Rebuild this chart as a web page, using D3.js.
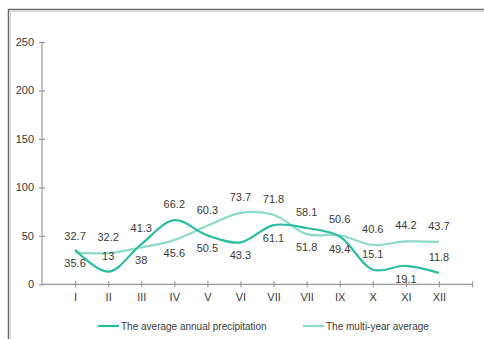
<!DOCTYPE html>
<html>
<head>
<meta charset="utf-8">
<script src="https://cdn.jsdelivr.net/npm/d3@7/dist/d3.min.js"></script>
<style>
  html, body { margin: 0; padding: 0; background: #fff; }
  svg { display: block; font-family: "Liberation Sans", Arial, sans-serif; }
</style>
</head>
<body>
<svg id="chart" width="484" height="339"></svg>
<script>
// Monthly precipitation (mm)
const months = ["I", "II", "III", "IV", "V", "VI", "VII", "VII", "IX", "X", "XI", "XII"];
const annualPrecip = [35.6, 13, 41.3, 66.2, 50.5, 43.3, 61.1, 58.1, 49.4, 15.1, 19.1, 11.8];
const multiYearAvg = [32.7, 32.2, 38, 45.6, 60.3, 73.7, 71.8, 51.8, 50.6, 40.6, 44.2, 43.7];
const yTicks = [0, 50, 100, 150, 200, 250];
const seriesNames = ["The average annual precipitation", "The multi-year average"];

// Which side of its point each value label sits on
const annualLabelSide = ["below", "above", "above", "above", "below", "below", "below", "above", "below", "above", "below", "above"];
const multiLabelSide  = ["above", "above", "below", "below", "above", "above", "above", "below", "above", "above", "above", "above"];

const colors = ["#2bbd9f", "#8fd9c9"];
const textColor = "#3a3a3a";
const axisColor = "#9a9a9a";

const svg = d3.select("#chart");

// outer frame (top and left edges)
svg.append("path")
  .attr("d", "M8.5,340 V9.5 H484")
  .attr("fill", "none").attr("stroke", "#6a6a6a").attr("stroke-width", 1.5);
svg.append("path")
  .attr("d", "M10.5,340 V11.5 H484")
  .attr("fill", "none").attr("stroke", "#d8d8d8").attr("stroke-width", 1);

const x = d3.scaleLinear().domain([0, 13]).range([42, 472]);
const y = d3.scaleLinear().domain([0, 250]).range([284.3, 42]);

// y axis
const yAxis = svg.append("g").attr("transform", `translate(${x(0)},0)`)
  .call(d3.axisLeft(y).tickValues(yTicks).tickSize(3).tickPadding(5));
yAxis.selectAll(".tick line").attr("x2", 3).attr("x1", -3);
// x axis
const xAxis = svg.append("g").attr("transform", `translate(0,${y(0)})`)
  .call(d3.axisBottom(x).tickValues(d3.range(1, 14))
    .tickFormat(d => months[d - 1] || "").tickSize(3).tickPadding(6));
xAxis.selectAll(".tick line").attr("y1", -3).attr("y2", 3);

[yAxis, xAxis].forEach(ax => {
  ax.select(".domain").attr("stroke", axisColor).attr("stroke-width", 1.2);
  ax.selectAll(".tick line").attr("stroke", axisColor).attr("stroke-width", 1.2);
  ax.selectAll(".tick text").attr("fill", textColor).attr("font-size", 11)
    .attr("font-family", "Liberation Sans, Arial, sans-serif");
});
// remove the default outer tick path ends
yAxis.select(".domain").attr("d", `M0,${y(0)}V${y(250)}`);
xAxis.select(".domain").attr("d", `M${x(0)},0H${x(13)}`);

const line = d3.line()
  .x((d, i) => x(i + 1))
  .y(d => y(d))
  .curve(d3.curveCatmullRom.alpha(0.5));

const series = [
  { values: multiYearAvg, color: colors[1], sides: multiLabelSide },
  { values: annualPrecip, color: colors[0], sides: annualLabelSide }
];

series.forEach(s => {
  svg.append("path")
    .datum(s.values)
    .attr("fill", "none")
    .attr("stroke", s.color)
    .attr("stroke-width", 2.2)
    .attr("d", line);
});

series.forEach(s => {
  svg.append("g").selectAll("text")
    .data(s.values)
    .join("text")
    .attr("x", (d, i) => x(i + 1))
    .attr("y", (d, i) => y(d) + (s.sides[i] === "above" ? -16 : 13))
    .attr("dy", "0.35em")
    .attr("text-anchor", "middle")
    .attr("font-size", 11)
    .attr("fill", textColor)
    .text(d => d);
});

// legend
const legendItems = [
  { name: seriesNames[0], color: colors[0], x0: 98 },
  { name: seriesNames[1], color: colors[1], x0: 303 }
];
const legend = svg.append("g");
legendItems.forEach(it => {
  legend.append("line")
    .attr("x1", it.x0).attr("x2", it.x0 + 21)
    .attr("y1", 326).attr("y2", 326)
    .attr("stroke", it.color).attr("stroke-width", 2.2);
  legend.append("text")
    .attr("x", it.x0 + 23).attr("y", 326).attr("dy", "0.35em")
    .attr("font-size", 10).attr("fill", textColor)
    .text(it.name);
});
</script>
</body>
</html>
